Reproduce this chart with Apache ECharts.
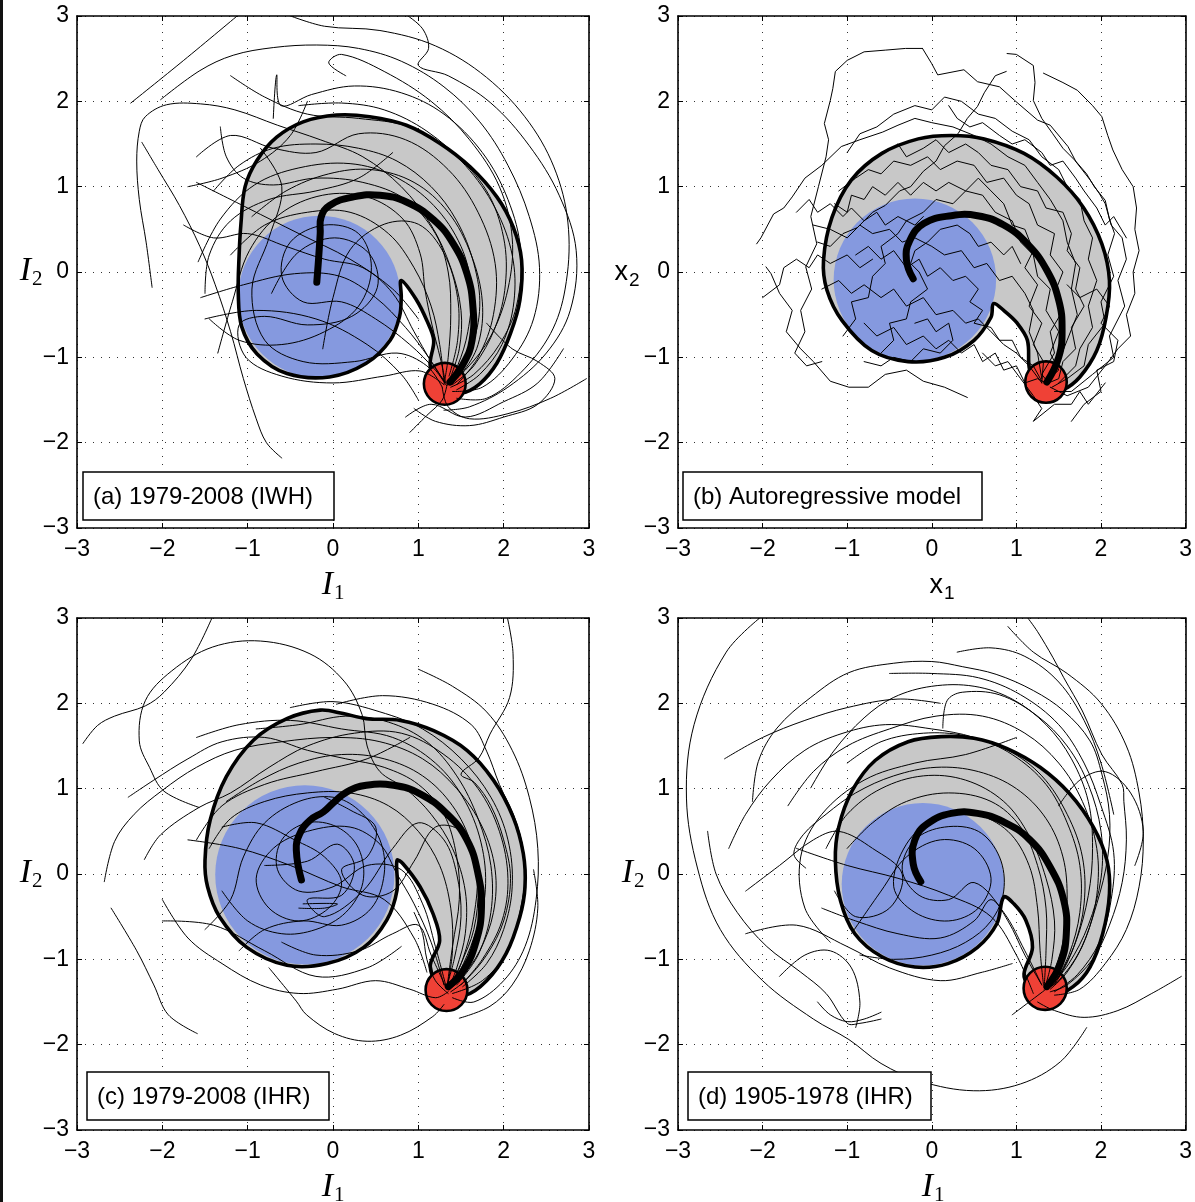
<!DOCTYPE html>
<html>
<head>
<meta charset="utf-8">
<script src="https://cdn.jsdelivr.net/npm/echarts/dist/echarts.min.js"></script>
<style>
  html, body { margin: 0; padding: 0; background: #fff; }
  #chart { width: 1195px; height: 1202px; }
</style>
</head>
<body>
<div id="chart"></div>
<script>
// Axis range shared by all four phase-space panels
const axisMin = -3, axisMax = 3, axisStep = 1;

const panelLabels = ['(a) 1979-2008 (IWH)', '(b) Autoregressive model', '(c) 1979-2008 (IHR)', '(d) 1905-1978 (IHR)'];

// ---------- (a) 1979-2008 (IWH) ----------
const outlineA = [[-1.11,-0.25],[-1.10,0.20],[-1.08,0.55],[-1.03,1.00],[-0.89,1.31],[-0.66,1.58],[-0.35,1.76],[0.04,1.84],[0.43,1.82],[0.86,1.72],[1.25,1.51],[1.61,1.23],[1.92,0.88],[2.11,0.53],[2.21,0.14],[2.19,-0.33],[2.08,-0.72],[1.92,-1.07],[1.72,-1.31],[1.50,-1.42],[1.28,-1.36],[1.14,-1.11],[1.18,-0.80],[1.10,-0.57],[0.98,-0.33],[0.80,-0.10],[0.80,-0.30],[0.78,-0.52],[0.67,-0.80],[0.39,-1.07],[-0.04,-1.23],[-0.54,-1.19],[-0.89,-0.96],[-1.07,-0.64]];
const blueA = [-0.16, -0.29, 0.95];
const redA = [1.31, -1.31, 0.245];
const meanA = [[-0.19,-0.12],[-0.17,0.14],[-0.15,0.45],[-0.14,0.64],[-0.04,0.78],[0.24,0.88],[0.55,0.90],[0.86,0.82],[1.18,0.61],[1.41,0.33],[1.57,-0.02],[1.64,-0.41],[1.63,-0.80],[1.53,-1.07],[1.37,-1.29]];
const trajA = [
  [[-2.37,1.98],[-1.75,2.48],[-1.10,3.02]],
  [[-2.12,-0.18],[-2.19,0.35],[-2.27,0.85],[-2.30,1.30],[-2.27,1.65],[-2.20,1.82],[-1.95,1.96],[-1.55,1.97],[-1.15,1.90],[-0.65,1.72],[-0.15,1.55],[0.35,1.35],[0.80,1.00],[1.15,0.55],[1.38,0.05],[1.50,-0.45],[1.48,-0.90],[1.36,-1.28]],
  [[-2.24,1.52],[-2.05,1.20],[-1.80,0.78],[-1.56,0.30],[-1.38,-0.15],[-1.20,-0.70],[-1.05,-1.25],[-0.90,-1.72],[-0.78,-2.00],[-0.60,-2.18]],
  [[-2.02,2.02],[-1.56,2.36],[-1.17,2.54],[-0.70,2.63],[-0.19,2.66],[0.30,2.62],[0.80,2.47],[1.30,2.17],[1.72,1.76],[2.05,1.25],[2.30,0.65],[2.42,0.05],[2.35,-0.55],[2.10,-1.02],[1.75,-1.35],[1.40,-1.40]],
  [[-1.32,1.70],[-1.25,1.35],[-1.05,1.10],[-0.70,1.02],[-0.20,1.10],[0.35,1.05],[0.85,0.85],[1.20,0.45],[1.35,0.00],[1.38,-0.50],[1.35,-1.00],[1.30,-1.32]],
  [[-0.70,1.80],[-0.66,2.31],[-0.61,1.95],[-0.25,2.08],[0.25,2.18],[0.80,2.10],[1.30,1.85],[1.75,1.40],[2.05,0.85],[2.20,0.25],[2.15,-0.40],[1.95,-0.85],[1.65,-1.20],[1.38,-1.35]],
  [[0.85,3.02],[1.05,2.85],[1.12,2.62],[1.00,2.42],[1.35,2.30],[1.85,1.98],[2.30,1.48],[2.65,0.90],[2.85,0.25],[2.78,-0.45],[2.50,-0.95],[2.05,-1.35],[1.60,-1.58],[1.30,-1.62]],
  [[-0.55,3.02],[-0.10,2.88],[0.55,2.83],[1.20,2.65],[1.80,2.28],[2.30,1.75],[2.62,1.15],[2.76,0.50],[2.72,-0.20],[2.55,-0.72],[2.20,-1.18],[1.80,-1.48],[1.45,-1.48]],
  [[2.97,-1.25],[2.55,-1.48],[2.05,-1.66],[1.60,-1.72],[1.35,-1.58],[1.28,-1.35]],
  [[0.90,-1.88],[1.10,-1.68],[1.28,-1.50],[1.34,-1.30]],
  [[-1.35,-0.95],[-1.18,-0.35],[-0.98,0.25],[-0.62,0.68],[-0.12,0.90],[0.40,0.88],[0.82,0.62],[1.02,0.22],[1.08,-0.22],[1.16,-0.62],[1.26,-1.02],[1.32,-1.30]],
  [[-1.55,-0.30],[-1.05,-0.15],[-0.45,-0.02],[0.08,-0.05],[0.50,-0.30],[0.85,-0.65],[1.12,-1.00],[1.30,-1.28]],
  [[-0.72,-0.25],[-0.42,0.22],[0.02,0.40],[0.42,0.22],[0.52,-0.18],[0.22,-0.52],[-0.30,-0.62],[-0.80,-0.52],[-1.10,-0.62],[-1.02,-1.00],[-0.60,-1.22],[0.00,-1.30],[0.60,-1.22],[1.02,-1.16],[1.30,-1.32]],
  [[-1.58,0.12],[-1.32,0.62],[-0.92,1.02],[-0.40,1.22],[0.20,1.27],[0.72,1.12],[1.18,0.78],[1.50,0.30],[1.62,-0.20],[1.58,-0.70],[1.46,-1.10],[1.34,-1.30]],
  [[-0.12,-0.90],[0.00,-0.30],[0.20,0.26],[0.60,0.56],[1.00,0.56],[1.30,0.22],[1.46,-0.30],[1.46,-0.80],[1.36,-1.22]],
  [[-1.60,1.35],[-1.20,1.60],[-0.70,1.45],[-0.20,1.40],[0.30,1.62],[0.85,1.55],[1.35,1.20],[1.70,0.70],[1.90,0.10],[1.88,-0.50],[1.70,-1.00],[1.45,-1.32]],
  [[-0.85,1.45],[-0.60,1.00],[-0.75,0.40],[-0.95,-0.20],[-0.80,-0.80],[-0.35,-1.05],[0.25,-1.05],[0.75,-0.95],[1.10,-1.10],[1.28,-1.35]],
  [[0.15,2.30],[-0.05,2.45],[0.10,2.55],[0.60,2.35],[1.15,2.00],[1.60,1.55],[1.95,1.00],[2.10,0.40],[2.05,-0.20],[1.85,-0.75],[1.55,-1.15],[1.35,-1.30]],
  [[0.85,-1.70],[1.15,-1.55],[1.55,-1.70],[2.00,-1.52],[2.40,-1.30],[2.70,-0.90]],
  [[-1.40,0.95],[-1.10,1.25],[-0.70,1.45],[-0.20,1.50],[0.30,1.45],[0.75,1.30],[1.15,1.00],[1.45,0.60],[1.65,0.10],[1.72,-0.40],[1.62,-0.90],[1.42,-1.28]],
  [[-0.95,0.65],[-0.55,0.95],[-0.05,1.15],[0.45,1.20],[0.95,1.05],[1.35,0.70],[1.62,0.20],[1.75,-0.35],[1.70,-0.85],[1.50,-1.20],[1.33,-1.33]],
  [[-1.20,0.20],[-0.80,0.55],[-0.30,0.70],[0.20,0.70],[0.65,0.45],[0.95,0.05],[1.15,-0.40],[1.25,-0.85],[1.30,-1.28]],
  [[-1.45,-0.55],[-1.10,-0.80],[-0.60,-0.85],[-0.10,-0.70],[0.30,-0.40],[0.45,0.05],[0.30,0.45],[-0.10,0.55],[-0.50,0.35],[-0.60,-0.05],[-0.35,-0.35],[0.10,-0.35],[0.50,-0.55],[0.90,-0.85],[1.20,-1.15],[1.32,-1.32]],
  [[-1.75,0.55],[-1.40,0.40],[-1.00,0.45],[-0.55,0.30],[-0.10,0.15],[0.35,0.05],[0.70,-0.25],[0.95,-0.70],[1.15,-1.05],[1.32,-1.30]],
  [[-0.40,1.95],[0.10,1.98],[0.60,1.90],[1.10,1.65],[1.55,1.25],[1.90,0.75],[2.10,0.20],[2.12,-0.35],[1.98,-0.85],[1.72,-1.20],[1.45,-1.38]],
  [[1.80,-0.60],[2.10,-0.90],[2.40,-1.05],[2.60,-1.25],[2.40,-1.55],[2.00,-1.70],[1.60,-1.80],[1.20,-1.75],[0.95,-1.60]],
  [[-1.20,2.30],[-0.80,2.05],[-0.30,1.85],[0.30,1.80],[0.90,1.70],[1.40,1.40],[1.80,0.95],[2.00,0.40],[2.02,-0.15],[1.90,-0.65],[1.65,-1.10],[1.40,-1.32]],
  [[-1.60,1.05],[-1.00,0.75],[-0.40,0.45],[0.20,0.15],[0.70,-0.20],[1.00,-0.55]],
  [[-1.50,-0.55],[-0.90,-0.45],[-0.20,-0.55],[0.40,-0.85],[0.80,-1.20],[1.00,-1.50]],
  [[0.70,1.40],[0.30,1.10],[-0.20,0.95],[-0.75,0.85],[-1.20,0.60],[-1.45,0.20],[-1.50,-0.25]],
  [[-0.30,2.00],[-0.50,1.60],[-0.85,1.30],[-1.30,1.10],[-1.70,1.00]]
];

// ---------- (b) Autoregressive model ----------
const outlineB = [[-1.28,0.14],[-1.18,0.64],[-0.95,1.08],[-0.59,1.39],[-0.16,1.56],[0.23,1.60],[0.62,1.56],[1.09,1.39],[1.48,1.11],[1.79,0.76],[2.01,0.33],[2.10,-0.10],[2.06,-0.53],[1.95,-0.92],[1.75,-1.23],[1.55,-1.38],[1.35,-1.40],[1.20,-1.28],[1.15,-1.11],[1.13,-0.80],[1.01,-0.60],[0.85,-0.45],[0.73,-0.37],[0.70,-0.53],[0.50,-0.80],[0.15,-1.00],[-0.28,-1.05],[-0.71,-0.92],[-1.06,-0.57],[-1.24,-0.21]];
const blueB = [-0.20, -0.09, 0.96];
const redB = [1.35, -1.29, 0.245];
const meanB = [[-0.22,-0.08],[-0.30,0.14],[-0.26,0.37],[-0.09,0.57],[0.23,0.66],[0.54,0.66],[0.85,0.55],[1.13,0.33],[1.36,0.02],[1.50,-0.33],[1.54,-0.68],[1.50,-1.00],[1.36,-1.29]];
const trajB = [
  [[-0.11,2.62],[-0.31,2.62],[-0.55,2.60],[-0.80,2.58],[-1.00,2.48],[-1.14,2.35],[-1.17,2.15],[-1.20,2.01],[-1.27,1.74],[-1.22,1.55],[-1.25,1.35],[-1.34,1.00],[-1.43,0.65],[-1.36,0.33],[-1.49,0.06],[-1.42,-0.20],[-1.55,-0.45],[-1.50,-0.70],[-1.62,-0.95],[-1.48,-1.10],[-1.30,-1.05]],
  [[-0.11,2.62],[0.00,2.44],[0.07,2.31],[0.38,2.37],[0.54,2.23],[0.80,2.17],[0.98,2.01],[1.25,1.78],[1.40,1.72],[1.61,1.47],[1.70,1.30],[1.83,1.15],[1.92,1.00],[2.05,0.84],[2.10,0.62],[2.16,0.45],[2.08,0.20],[2.15,-0.05],[2.00,-0.35],[2.05,-0.60],[1.85,-0.85],[1.80,-1.10],[1.60,-1.25],[1.42,-1.35]],
  [[0.89,2.56],[1.00,2.55],[1.20,2.42],[1.22,2.22],[1.20,2.01],[1.30,1.80],[1.43,1.62],[1.55,1.45],[1.69,1.31],[1.87,1.08],[1.98,0.92],[2.05,0.80],[2.12,0.55],[2.25,0.40],[2.30,0.15],[2.20,-0.10],[2.28,-0.40],[2.10,-0.75],[2.15,-1.00],[1.90,-1.20],[1.65,-1.40],[1.45,-1.40]],
  [[0.88,2.35],[0.75,2.30],[0.62,2.10],[0.54,1.94],[0.42,1.80],[0.31,1.62],[0.15,1.48],[0.05,1.30],[-0.10,1.18],[-0.25,1.00],[-0.38,0.95],[-0.55,0.78],[-0.70,0.70],[-0.88,0.52],[-1.05,0.45],[-1.20,0.30],[-1.35,0.35]],
  [[1.32,2.33],[1.55,2.22],[1.72,2.13],[1.90,1.95],[2.01,1.82],[2.08,1.60],[2.14,1.43],[2.25,1.20],[2.38,1.00],[2.42,0.75],[2.40,0.50],[2.45,0.25],[2.38,0.00],[2.40,-0.25],[2.30,-0.50],[2.35,-0.75],[2.20,-0.90],[2.05,-1.10],[1.85,-1.35],[1.60,-1.45],[1.40,-1.35]],
  [[-2.07,0.33],[-2.02,0.40],[-1.87,0.68],[-1.75,0.75],[-1.65,0.88],[-1.50,1.10],[-1.30,1.25],[-1.07,1.47],[-0.85,1.55],[-0.58,1.64],[-0.40,1.72],[-0.20,1.80],[0.00,1.75],[0.25,1.70],[0.50,1.60],[0.70,1.50],[0.90,1.35],[1.10,1.25],[1.25,1.05],[1.40,0.85],[1.55,0.60],[1.60,0.35],[1.70,0.10],[1.65,-0.20],[1.72,-0.50],[1.60,-0.80],[1.50,-1.05],[1.38,-1.25]],
  [[-1.96,0.06],[-1.90,-0.02],[-1.80,-0.25],[-1.65,-0.45],[-1.72,-0.70],[-1.55,-0.90],[-1.40,-1.05],[-1.20,-1.28],[-0.98,-1.35],[-0.75,-1.35],[-0.55,-1.20],[-0.30,-1.15],[-0.10,-1.28],[0.15,-1.35],[0.42,-1.47]],
  [[-1.10,0.95],[-0.90,1.10],[-0.75,1.20],[-0.60,1.15],[-0.45,1.30],[-0.25,1.25],[-0.05,1.35],[0.10,1.20],[0.30,1.30],[0.50,1.25],[0.65,1.05],[0.85,1.10],[1.00,0.90],[1.15,0.80],[1.25,0.55],[1.45,0.45],[1.40,0.20],[1.55,0.00],[1.45,-0.25],[1.55,-0.45],[1.40,-0.70],[1.45,-0.95],[1.30,-1.20],[1.38,-1.30]],
  [[-1.40,0.55],[-1.20,0.50],[-1.00,0.40],[-0.85,0.55],[-0.70,0.45],[-0.50,0.50],[-0.35,0.35],[-0.20,0.40],[0.00,0.30],[0.15,0.20],[0.35,0.25],[0.50,0.05],[0.65,0.10],[0.80,-0.10],[0.95,-0.05],[1.10,-0.25],[1.20,-0.45],[1.15,-0.70],[1.25,-0.95],[1.30,-1.25]],
  [[-1.30,-0.20],[-1.10,-0.10],[-0.95,-0.25],[-0.80,-0.15],[-0.60,-0.30],[-0.45,-0.20],[-0.30,-0.40],[-0.10,-0.30],[0.05,-0.50],[0.25,-0.45],[0.40,-0.60],[0.55,-0.55],[0.70,-0.70],[0.85,-0.85],[1.00,-0.95],[1.15,-1.10],[1.30,-1.30]],
  [[-1.05,-0.75],[-0.90,-0.55],[-0.95,-0.35],[-0.75,-0.30],[-0.70,-0.05],[-0.55,0.10],[-0.60,0.30],[-0.40,0.45],[-0.30,0.60],[-0.10,0.70],[0.05,0.85],[0.25,0.80],[0.40,0.95],[0.60,0.90],[0.75,0.70],[0.95,0.60],[1.05,0.35],[1.20,0.20],[1.25,-0.05],[1.40,-0.20],[1.35,-0.45],[1.50,-0.70],[1.40,-0.95],[1.50,-1.15],[1.35,-1.28]],
  [[-0.60,-0.95],[-0.45,-0.80],[-0.50,-0.60],[-0.30,-0.55],[-0.25,-0.35],[-0.05,-0.20],[-0.15,0.00],[-0.25,0.10],[-0.20,0.25],[-0.05,0.35],[0.10,0.50],[0.30,0.55],[0.45,0.45],[0.55,0.30],[0.70,0.35],[0.85,0.20],[0.95,0.30],[1.05,0.10]],
  [[-1.00,1.40],[-0.85,1.62],[-0.65,1.70],[-0.45,1.85],[-0.20,1.95],[0.00,1.90],[0.15,2.05],[0.35,2.00],[0.55,1.85],[0.75,1.80],[0.95,1.65],[1.15,1.55],[1.30,1.35],[1.50,1.20],[1.60,1.00],[1.75,0.85],[1.80,0.60],[1.90,0.40],[1.85,0.15],[1.95,-0.10],[1.85,-0.40],[1.90,-0.65],[1.75,-0.90],[1.70,-1.10],[1.50,-1.30]],
  [[0.60,-0.95],[0.75,-1.10],[0.90,-1.05],[1.05,-1.25],[1.20,-1.45],[1.30,-1.60],[1.20,-1.75],[1.45,-1.55],[1.65,-1.55],[1.75,-1.40],[1.85,-1.55],[2.05,-1.30]],
  [[-2.00,-0.30],[-1.80,-0.15],[-1.75,0.05],[-1.60,0.15],[-1.45,0.05],[-1.35,0.20],[-1.20,0.10],[-1.00,0.20],[-0.85,0.05],[-0.70,0.15]],
  [[-0.80,-0.60],[-0.65,-0.75],[-0.45,-0.65],[-0.30,-0.85],[-0.10,-0.75],[0.05,-0.90],[0.20,-0.80],[0.35,-0.95],[0.50,-0.85],[0.60,-1.05],[0.75,-0.95],[0.85,-1.15],[1.00,-1.10],[1.10,-1.30],[1.25,-1.25],[1.35,-1.30]],
  [[-1.15,0.80],[-1.00,0.70],[-0.95,0.90],[-0.80,0.85],[-0.70,1.00],[-0.55,0.90],[-0.40,1.05],[-0.25,0.90],[-0.10,1.05],[0.05,0.95],[0.20,1.05],[0.40,0.95],[0.55,1.10],[0.70,0.95],[0.85,0.80],[0.95,0.55],[1.10,0.50],[1.20,0.25],[1.10,0.05],[1.25,-0.15],[1.15,-0.40],[1.30,-0.60],[1.20,-0.85],[1.32,-1.05],[1.30,-1.30]],
  [[-0.90,0.20],[-0.75,0.30],[-0.60,0.15],[-0.45,0.25],[-0.30,0.05],[-0.15,0.15],[-0.05,-0.05],[0.10,0.05],[0.25,-0.10],[0.40,-0.05],[0.55,-0.20],[0.45,-0.35],[0.60,-0.45],[0.50,-0.60],[0.70,-0.65],[0.80,-0.80],[0.95,-0.80],[1.05,-1.00],[1.20,-1.10],[1.30,-1.28]],
  [[-0.40,1.50],[-0.30,1.35],[-0.10,1.45],[0.05,1.55],[0.20,1.40],[0.40,1.50],[0.55,1.40],[0.70,1.25],[0.90,1.20],[1.05,1.00],[1.25,0.95],[1.35,0.75],[1.55,0.70],[1.65,0.45],[1.60,0.25],[1.75,0.05],[1.70,-0.20],[1.80,-0.40],[1.65,-0.65],[1.70,-0.90],[1.55,-1.05],[1.50,-1.25],[1.38,-1.30]],
  [[-1.60,0.70],[-1.45,0.85],[-1.35,0.70],[-1.20,0.80],[-1.05,0.65],[-0.95,0.75],[-0.80,0.60],[-0.65,0.70],[-0.55,0.55],[-0.40,0.65],[-0.20,0.55],[-0.10,0.65]],
  [[1.60,-0.15],[1.75,-0.30],[1.95,-0.20],[2.10,-0.40],[2.00,-0.60],[2.20,-0.80],[2.15,-1.05],[1.95,-1.15],[2.00,-1.40],[1.80,-1.55],[1.65,-1.75]],
  [[-0.20,-0.60],[-0.05,-0.55],[0.05,-0.70],[0.20,-0.60],[0.25,-0.80],[0.10,-0.95],[-0.10,-0.90],[-0.25,-1.05],[-0.45,-1.00],[-0.60,-1.10],[-0.80,-1.05]],
  [[0.20,1.95],[0.30,1.80],[0.45,1.70],[0.60,1.75],[0.80,1.60],[0.95,1.50],[1.10,1.55],[1.30,1.40],[1.40,1.25],[1.55,1.30],[1.70,1.10],[1.80,0.95],[1.95,0.75],[2.05,0.55],[2.15,0.65],[2.30,0.40]]
];

// ---------- (c) 1979-2008 (IHR) ----------
const outlineC = [[-1.50,0.16],[-1.44,0.63],[-1.25,1.14],[-0.93,1.57],[-0.54,1.82],[-0.15,1.92],[0.12,1.88],[0.39,1.82],[0.79,1.80],[1.18,1.68],[1.57,1.45],[1.88,1.10],[2.11,0.67],[2.23,0.24],[2.25,-0.15],[2.19,-0.50],[2.03,-0.93],[1.80,-1.25],[1.55,-1.42],[1.30,-1.38],[1.14,-1.09],[1.25,-0.78],[1.17,-0.46],[1.02,-0.15],[0.82,0.12],[0.75,0.16],[0.75,-0.19],[0.63,-0.54],[0.36,-0.86],[-0.07,-1.05],[-0.54,-1.07],[-1.01,-0.86],[-1.33,-0.50],[-1.47,-0.15]];
const blueC = [-0.33, -0.01, 1.05];
const redC = [1.33, -1.36, 0.245];
const meanC = [[-0.37,-0.07],[-0.43,0.28],[-0.39,0.47],[-0.27,0.63],[-0.11,0.73],[0.00,0.83],[0.16,0.96],[0.39,1.04],[0.71,1.04],[1.02,0.94],[1.33,0.71],[1.57,0.40],[1.70,0.00],[1.74,-0.39],[1.68,-0.78],[1.53,-1.13],[1.35,-1.32]];
const trajC = [
  [[-2.93,1.53],[-2.76,1.74],[-2.56,1.85],[-2.20,1.97],[-1.98,2.13],[-1.66,2.52],[-1.41,3.02]],
  [[-1.57,0.78],[-1.98,0.97],[-2.15,1.25],[-2.27,1.56],[-2.20,2.03],[-1.89,2.38],[-1.41,2.66],[-0.85,2.73],[-0.27,2.58],[0.13,2.26],[0.34,1.87],[0.40,1.50],[0.55,1.20],[0.85,1.00],[1.15,0.70],[1.40,0.30],[1.55,-0.20],[1.55,-0.70],[1.45,-1.10],[1.35,-1.35]],
  [[-2.68,-0.09],[-2.56,0.38],[-2.33,0.70],[-2.00,0.98],[-1.60,1.25],[-1.15,1.45],[-0.60,1.55],[0.00,1.60],[0.55,1.55],[1.05,1.35],[1.45,1.00],[1.75,0.55],[1.90,0.05],[1.88,-0.45],[1.72,-0.90],[1.50,-1.22],[1.36,-1.36]],
  [[-2.21,0.17],[-2.02,0.46],[-1.57,0.78],[-1.20,0.95],[-0.75,1.25],[-0.30,1.50],[0.25,1.65],[0.80,1.65],[1.30,1.40],[1.70,1.00],[1.95,0.50],[2.05,-0.05],[1.98,-0.55],[1.75,-1.00],[1.50,-1.30]],
  [[2.04,3.02],[2.11,2.58],[2.07,2.07],[1.84,1.64],[1.71,1.36],[1.50,1.17],[1.66,1.07],[1.85,0.80],[2.00,0.40],[2.08,-0.05],[2.00,-0.55],[1.80,-0.95],[1.55,-1.25],[1.38,-1.38]],
  [[0.04,1.99],[0.58,2.09],[1.17,1.99],[1.62,1.75],[1.80,1.44],[1.95,1.05],[2.15,0.60],[2.25,0.10],[2.20,-0.40],[2.05,-0.90],[1.75,-1.25],[1.40,-1.40]],
  [[-0.75,-1.10],[-0.43,-1.49],[-0.31,-1.65],[0.02,-1.87],[0.40,-1.96],[0.79,-1.89],[1.17,-1.67],[1.30,-1.53]],
  [[-2.60,-0.40],[-2.30,-0.90],[-2.10,-1.30],[-1.93,-1.65],[-1.59,-1.87]],
  [[1.48,-1.69],[1.84,-1.55],[2.10,-1.30],[2.30,-0.90],[2.40,-0.40],[2.35,0.05]],
  [[-1.30,0.55],[-0.90,0.60],[-0.45,0.40],[-0.10,0.20],[0.10,-0.10],[-0.05,-0.40],[-0.40,-0.55],[-0.75,-0.40],[-0.90,-0.05],[-0.70,0.30],[-0.30,0.50],[0.20,0.55],[0.55,0.35],[0.75,0.00],[0.95,-0.35],[1.15,-0.80],[1.30,-1.30]],
  [[-1.10,-0.90],[-0.80,-0.65],[-0.35,-0.55],[0.10,-0.60],[0.45,-0.40],[0.60,0.00],[0.55,0.40],[0.30,0.75],[0.00,0.90],[-0.40,0.85],[-0.80,0.60],[-1.05,0.20],[-1.20,-0.30],[-1.50,-0.65]],
  [[-0.60,-0.80],[-0.20,-0.95],[0.30,-0.90],[0.70,-0.70],[1.00,-0.60],[1.15,-0.95],[1.32,-1.32]],
  [[-1.60,1.60],[-1.10,1.75],[-0.50,1.80],[0.10,1.70],[0.70,1.60],[1.20,1.30],[1.55,0.85],[1.75,0.30],[1.78,-0.25],[1.65,-0.75],[1.48,-1.15],[1.35,-1.35]],
  [[-0.80,0.10],[-0.30,0.15],[0.05,0.35],[0.25,0.10],[0.10,-0.25],[-0.30,-0.30],[-0.10,-0.50],[0.35,-0.20],[0.70,0.30],[1.00,0.60],[1.30,0.40],[1.45,0.00],[1.50,-0.50],[1.42,-1.00],[1.33,-1.32]],
  [[-0.35,-0.35],[0.05,-0.35],[-0.10,-0.40],[-0.40,-0.40]],
  [[-2.40,0.90],[-2.10,1.10],[-1.70,1.35],[-1.30,1.55],[-0.80,1.60],[-0.30,1.45],[0.15,1.35],[0.60,1.25],[1.00,1.05],[1.30,0.70],[1.45,0.20],[1.48,-0.30],[1.40,-0.85],[1.34,-1.30]],
  [[1.00,2.40],[1.40,2.20],[1.80,1.90],[2.10,1.45],[2.30,0.90],[2.40,0.30],[2.38,-0.30],[2.25,-0.85],[2.00,-1.25],[1.65,-1.50],[1.40,-1.45]],
  [[-1.25,0.85],[-0.85,1.10],[-0.40,1.30],[0.10,1.40],[0.60,1.35],[1.05,1.15],[1.40,0.80],[1.62,0.35],[1.70,-0.15],[1.65,-0.65],[1.50,-1.05],[1.36,-1.34]],
  [[-1.45,0.30],[-1.20,0.65],[-0.80,0.85],[-0.30,0.95],[0.20,0.95],[0.65,0.80],[1.00,0.50],[1.25,0.10],[1.38,-0.40],[1.40,-0.90],[1.34,-1.32]],
  [[-0.50,1.95],[0.00,2.02],[0.55,1.90],[1.05,1.70],[1.50,1.35],[1.85,0.90],[2.05,0.40],[2.10,-0.15],[2.00,-0.65],[1.80,-1.05],[1.52,-1.32]],
  [[-1.30,-0.20],[-1.00,-0.55],[-0.60,-0.70],[-0.20,-0.65],[0.15,-0.45],[0.35,-0.10],[0.30,0.30],[0.05,0.55],[-0.30,0.60],[-0.60,0.40],[-0.65,0.05],[-0.40,-0.20],[0.00,-0.15],[0.40,0.10],[0.80,0.05],[1.05,-0.35],[1.20,-0.85],[1.32,-1.30]],
  [[-0.90,1.70],[-0.40,1.75],[0.15,1.85],[0.65,1.78],[1.10,1.55],[1.45,1.15],[1.70,0.65],[1.85,0.10],[1.85,-0.45],[1.70,-0.95],[1.45,-1.30]],
  [[0.95,-0.45],[1.05,-0.70],[1.10,-1.00],[1.20,-1.25],[1.35,-1.40]],
  [[-2.00,-0.30],[-1.70,-0.75],[-1.30,-1.05],[-0.85,-1.30],[-0.40,-1.40],[0.05,-1.35],[0.50,-1.25],[0.90,-1.35],[1.20,-1.45],[1.35,-1.38]],
  [[-0.10,0.90],[0.20,0.75],[0.50,0.55],[0.40,0.20],[0.10,0.05],[0.35,-0.25],[0.70,-0.20],[0.95,0.15],[1.20,0.55],[1.50,0.50],[1.68,0.05],[1.65,-0.50],[1.52,-1.00],[1.38,-1.32]],
  [[-1.70,0.40],[-1.10,0.30],[-0.50,0.10],[0.10,-0.15],[0.60,-0.30],[0.95,-0.75],[1.10,-1.15]],
  [[0.90,1.60],[0.40,1.35],[-0.20,1.20],[-0.80,1.05],[-1.30,0.80],[-1.60,0.40]],
  [[-2.00,-0.55],[-1.40,-0.60],[-0.80,-0.90],[-0.20,-1.20],[0.40,-1.10],[0.80,-0.85]]
];

// ---------- (d) 1905-1978 (IHR) ----------
const outlineD = [[-1.14,0.16],[-1.10,0.55],[-0.94,0.98],[-0.67,1.33],[-0.28,1.55],[0.11,1.61],[0.50,1.59],[0.89,1.47],[1.28,1.25],[1.63,0.94],[1.91,0.55],[2.07,0.16],[2.10,-0.23],[2.02,-0.70],[1.87,-1.09],[1.67,-1.32],[1.40,-1.44],[1.15,-1.30],[1.09,-1.17],[1.19,-0.86],[1.11,-0.54],[0.97,-0.35],[0.85,-0.27],[0.77,-0.58],[0.54,-0.86],[0.19,-1.05],[-0.20,-1.09],[-0.59,-0.97],[-0.91,-0.70],[-1.08,-0.31]];
const blueD = [-0.105, -0.12, 0.96];
const redD = [1.34, -1.34, 0.255];
const meanD = [[-0.13,-0.09],[-0.22,0.12],[-0.20,0.40],[-0.05,0.59],[0.23,0.71],[0.54,0.71],[0.85,0.61],[1.16,0.40],[1.40,0.08],[1.56,-0.31],[1.59,-0.70],[1.52,-1.05],[1.36,-1.32]];
const trajD = [
  [[-2.01,3.02],[-2.43,2.60],[-2.81,1.75],[-2.90,0.89],[-2.77,0.07],[-2.50,-0.65],[-2.00,-1.25],[-1.40,-1.70],[-0.98,-1.94],[-0.60,-2.22],[-0.13,-2.43],[0.49,-2.54],[1.05,-2.46],[1.52,-2.20],[1.83,-1.80]],
  [[-2.12,0.85],[-2.05,1.32],[-1.83,1.71],[-1.43,2.07],[-0.98,2.36],[-0.45,2.47],[0.00,2.49],[0.36,2.43],[0.76,2.34],[1.20,2.15],[1.56,1.91],[1.87,1.56],[2.01,1.17],[2.10,0.70],[2.08,0.20],[1.95,-0.35],[1.75,-0.90],[1.50,-1.25],[1.35,-1.35]],
  [[-1.43,1.01],[-1.16,1.44],[-0.80,1.83],[-0.45,2.07],[0.00,2.20],[0.50,2.20],[0.95,2.05],[1.35,1.75],[1.65,1.35],[1.85,0.85],[1.90,0.30],[1.85,-0.25],[1.70,-0.80],[1.50,-1.20],[1.36,-1.35]],
  [[1.12,3.02],[1.25,2.84],[1.43,2.54],[1.56,2.30],[1.78,1.91],[2.01,1.40],[2.25,1.05],[2.27,0.85],[2.30,0.40],[2.25,-0.10],[2.10,-0.60],[1.90,-1.00],[1.60,-1.30],[1.40,-1.38]],
  [[0.13,1.71],[0.18,2.03],[0.36,2.13],[0.80,2.10],[1.25,1.85],[1.60,1.50],[1.85,1.05],[2.00,0.50],[2.00,-0.05],[1.85,-0.60],[1.62,-1.05],[1.40,-1.32]],
  [[-1.49,0.07],[-1.63,0.23],[-1.52,0.46],[-1.25,0.70],[-0.90,0.95],[-0.45,1.15],[0.05,1.25],[0.55,1.20],[1.00,1.00],[1.35,0.65],[1.55,0.20],[1.60,-0.30],[1.55,-0.80],[1.42,-1.20],[1.33,-1.35]],
  [[-2.65,0.50],[-2.55,0.00],[-2.30,-0.45],[-1.95,-0.85],[-1.55,-1.15],[-1.25,-1.40],[-1.00,-1.75],[-0.85,-1.75],[-0.60,-1.70]],
  [[-2.40,0.30],[-2.20,0.70],[-1.90,1.10],[-1.50,1.45],[-1.05,1.65],[-0.55,1.75],[0.00,1.70],[0.50,1.60],[0.95,1.40],[1.35,1.05],[1.60,0.60],[1.75,0.10],[1.75,-0.45],[1.62,-0.95],[1.45,-1.28]],
  [[-0.95,-0.70],[-0.60,-0.20],[-0.30,0.20],[0.10,0.40],[0.50,0.30],[0.70,-0.05],[0.55,-0.40],[0.20,-0.55],[-0.20,-0.45],[-0.45,-0.15],[-0.30,0.35],[0.05,0.65],[0.50,0.70],[0.90,0.50],[1.15,0.10],[1.25,-0.40],[1.28,-0.90],[1.32,-1.30]],
  [[-1.00,0.30],[-0.70,0.60],[-0.30,0.85],[0.20,0.95],[0.70,0.85],[1.05,0.55],[1.25,0.10],[1.35,-0.40],[1.35,-0.90],[1.33,-1.30]],
  [[-1.30,-0.40],[-0.90,-0.55],[-0.40,-0.70],[0.10,-0.75],[0.50,-0.55],[0.70,-0.30],[0.90,-0.55],[1.10,-0.95],[1.30,-1.30]],
  [[0.95,-1.65],[1.15,-1.50],[1.35,-1.35]],
  [[2.95,-1.20],[2.60,-1.40],[2.20,-1.60],[1.80,-1.68],[1.45,-1.60],[1.25,-1.50]],
  [[-2.45,1.35],[-2.00,1.60],[-1.50,1.80],[-1.00,1.95],[-0.40,2.05],[0.10,2.00]],
  [[-1.35,-1.50],[-1.20,-1.65],[-1.00,-1.73],[-0.80,-1.70],[-0.60,-1.62]],
  [[-2.20,-0.20],[-1.80,0.10],[-1.40,0.40],[-1.10,0.50],[-0.70,0.30],[-0.35,0.00],[-0.50,-0.40],[-0.90,-0.50],[-1.15,-0.20]],
  [[0.30,2.60],[0.70,2.65],[1.10,2.55],[1.50,2.25],[1.80,1.80],[2.00,1.30],[2.15,0.70]],
  [[-1.00,1.30],[-0.60,1.55],[-0.10,1.65],[0.40,1.62],[0.90,1.45],[1.30,1.15],[1.60,0.70],[1.78,0.20],[1.80,-0.35],[1.68,-0.85],[1.48,-1.25],[1.36,-1.35]],
  [[-1.25,0.30],[-1.00,0.70],[-0.60,1.00],[-0.10,1.15],[0.40,1.10],[0.85,0.85],[1.15,0.45],[1.35,-0.05],[1.45,-0.55],[1.42,-1.00],[1.34,-1.32]],
  [[-0.85,-0.95],[-0.45,-1.00],[0.00,-0.95],[0.40,-0.80],[0.70,-0.55],[0.85,-0.20],[0.80,0.20],[0.55,0.50],[0.15,0.55],[-0.20,0.40],[-0.35,0.05],[-0.15,-0.25],[0.20,-0.30],[0.50,-0.10],[0.85,-0.45],[1.10,-0.90],[1.30,-1.30]],
  [[-0.50,2.35],[0.00,2.35],[0.55,2.30],[1.05,2.10],[1.50,1.75],[1.80,1.30],[2.00,0.80],[2.15,0.25],[2.12,-0.30],[1.98,-0.80],[1.72,-1.18],[1.45,-1.38]],
  [[-1.70,0.80],[-1.40,1.20],[-1.00,1.50],[-0.50,1.70],[0.05,1.85],[0.60,1.85],[1.10,1.65],[1.50,1.30],[1.78,0.85],[1.95,0.30],[1.95,-0.25],[1.82,-0.75],[1.60,-1.15],[1.40,-1.35]],
  [[0.90,2.90],[1.20,2.60],[1.60,2.35],[2.00,2.00],[2.30,1.50],[2.45,0.95],[2.50,0.40],[2.45,-0.15],[2.30,-0.65],[2.05,-1.05],[1.75,-1.35],[1.45,-1.42]],
  [[-1.80,-1.20],[-1.50,-0.95],[-1.20,-0.90],[-0.95,-1.10],[-0.85,-1.50],[-0.90,-1.80]],
  [[1.50,0.80],[1.75,1.10],[2.05,1.20],[2.35,0.95],[2.50,0.50],[2.40,0.10]],
  [[-1.60,0.30],[-1.00,0.10],[-0.40,-0.05],[0.20,-0.25],[0.70,-0.50],[1.00,-0.95],[1.20,-1.40]],
  [[1.00,1.60],[0.40,1.40],[-0.20,1.30],[-0.80,1.10],[-1.30,0.70],[-1.55,0.20],[-1.50,-0.40],[-1.20,-0.80]],
  [[-2.20,-0.70],[-1.60,-0.60],[-1.00,-0.85],[-0.50,-1.10],[0.10,-1.25],[0.60,-1.15],[0.95,-1.05]]
];

// ---------- layout ----------
const panels = [
  { outline: outlineA, blue: blueA, red: redA, mean: meanA, traj: trajA, smooth: 0.35, left: 77,  top: 16 },
  { outline: outlineB, blue: blueB, red: redB, mean: meanB, traj: trajB, smooth: 0,    left: 678, top: 16 },
  { outline: outlineC, blue: blueC, red: redC, mean: meanC, traj: trajC, smooth: 0.35, left: 77,  top: 618 },
  { outline: outlineD, blue: blueD, red: redD, mean: meanD, traj: trajD, smooth: 0.35, left: 678, top: 618 }
];
const SIZE = 512;
const GRAY = '#c8c8c8', BLUE = '#8599df', RED = '#ef4136';
const fmt = v => (v < 0 ? '\u2212' + Math.abs(v) : String(v));

const grid = [], xAxis = [], yAxis = [], series = [];
const tickFont = { fontFamily: 'Liberation Sans, Arial, sans-serif', fontSize: 23, color: '#000' };

// a path drawn as one polyline through the axis scales
function pathSeries(gi, pts, z, smooth, width) {
  return {
    type: 'custom', xAxisIndex: gi, yAxisIndex: gi, z: z, silent: true, clip: true,
    data: pts,
    renderItem: (params, api) => {
      if (params.dataIndex !== 0) return null;
      return { type: 'polyline', shape: { points: pts.map(pt => api.coord(pt)), smooth: smooth },
        style: { stroke: '#000', lineWidth: width, fill: null, lineCap: 'round', lineJoin: 'round' } };
    }
  };
}

panels.forEach((p, i) => {
  grid.push({ left: p.left, top: p.top, width: SIZE, height: SIZE, containLabel: false });
  const common = { type: 'value', min: axisMin, max: axisMax, interval: axisStep, gridIndex: i,
    axisLine: { show: true, onZero: false, lineStyle: { color: '#000', width: 1.6 } },
    axisTick: { show: true, inside: true, length: 5, lineStyle: { color: '#000', width: 1 } } };
  xAxis[i] = Object.assign({}, common, { position: 'bottom',
    axisLabel: Object.assign({ margin: 10, formatter: fmt }, tickFont),
    splitLine: { show: true, lineStyle: { color: '#333', width: 1, type: [1, 7] } } });
  yAxis[i] = Object.assign({}, common, { position: 'left',
    axisLabel: Object.assign({ margin: 8, formatter: fmt }, tickFont),
    splitLine: { show: true, lineStyle: { color: '#333', width: 1, type: [1, 7] } } });
  xAxis[i + 4] = Object.assign({}, common, { position: 'top', axisLabel: { show: false }, splitLine: { show: false } });
  yAxis[i + 4] = Object.assign({}, common, { position: 'right', axisLabel: { show: false }, splitLine: { show: false } });

  // shaded region with the blue disc inside and the bold outline on top
  series.push({
    type: 'custom', xAxisIndex: i, yAxisIndex: i, z: 2, silent: true, clip: true,
    data: p.outline,
    renderItem: (params, api) => {
      if (params.dataIndex !== 0) return null;
      const pts = p.outline.map(pt => api.coord(pt));
      const c = api.coord([p.blue[0], p.blue[1]]);
      const r = api.size([p.blue[2], 0])[0];
      return { type: 'group', children: [
        { type: 'polygon', shape: { points: pts, smooth: 0.35 }, style: { fill: GRAY, stroke: null } },
        { type: 'circle', shape: { cx: c[0], cy: c[1], r: r }, style: { fill: BLUE } },
        { type: 'polygon', shape: { points: pts, smooth: 0.35 }, style: { fill: null, stroke: '#000', lineWidth: 3.6, lineJoin: 'round' } }
      ] };
    }
  });
  // red end disc
  series.push({
    type: 'custom', xAxisIndex: i, yAxisIndex: i, z: 3, silent: true,
    data: [p.red],
    renderItem: (params, api) => {
      const c = api.coord([api.value(0), api.value(1)]);
      const r = api.size([api.value(2), 0])[0];
      return { type: 'circle', shape: { cx: c[0], cy: c[1], r: r }, style: { fill: RED, stroke: '#000', lineWidth: 2.6 } };
    }
  });
  // individual trajectories
  p.traj.forEach(tr => series.push(pathSeries(i, tr, 4, p.smooth, 1)));
  // mean path
  series.push(pathSeries(i, p.mean, 5, 0.45, 7));
});

// panel tags and axis titles
const graphic = [
  { type: 'rect', left: 0, top: 0, shape: { width: 3, height: 1202 }, style: { fill: '#111' }, z: 100 }
];
const boxes = [
  { x: 83, y: 472, w: 251 },
  { x: 683, y: 472, w: 299 },
  { x: 87, y: 1072, w: 242 },
  { x: 688, y: 1072, w: 243 }
];
boxes.forEach((b, i) => {
  graphic.push({ type: 'rect', shape: { x: b.x, y: b.y, width: b.w, height: 48 },
    style: { fill: '#fff', stroke: '#000', lineWidth: 1.5 }, z: 100 });
  graphic.push({ type: 'text', x: b.x + 10, y: b.y + 25, z: 101,
    style: { text: panelLabels[i], fill: '#000', font: '24px "Liberation Sans", Arial, sans-serif',
      textAlign: 'left', textVerticalAlign: 'middle' } });
});

function axisTitle(x, y, main, sub, italic, mainSize, subSize, dy) {
  const family = italic ? '"Liberation Serif", "DejaVu Serif", serif' : '"Liberation Sans", Arial, sans-serif';
  graphic.push({ type: 'text', x: x, y: y, z: 101,
    style: { text: main, fill: '#000', font: (italic ? 'italic ' : '') + mainSize + 'px ' + family,
      textAlign: 'right', textVerticalAlign: 'middle' } });
  graphic.push({ type: 'text', x: x + 1, y: y + dy, z: 101,
    style: { text: sub, fill: '#000', font: subSize + 'px ' + family,
      textAlign: 'left', textVerticalAlign: 'middle' } });
}
axisTitle(333, 585, 'I', '1', true, 34, 21, 8);
axisTitle(31, 271, 'I', '2', true, 34, 21, 8);
axisTitle(943, 586, 'x', '1', false, 27, 19, 8);
axisTitle(628, 273, 'x', '2', false, 27, 19, 8);
axisTitle(333, 1187, 'I', '1', true, 34, 21, 8);
axisTitle(31, 873, 'I', '2', true, 34, 21, 8);
axisTitle(933, 1187, 'I', '1', true, 34, 21, 8);
axisTitle(633, 873, 'I', '2', true, 34, 21, 8);

const chart = echarts.init(document.getElementById('chart'), null, { renderer: 'canvas' });
chart.setOption({
  animation: false,
  backgroundColor: '#fff',
  grid: grid,
  xAxis: xAxis,
  yAxis: yAxis,
  series: series,
  graphic: graphic
});
</script>
</body>
</html>
